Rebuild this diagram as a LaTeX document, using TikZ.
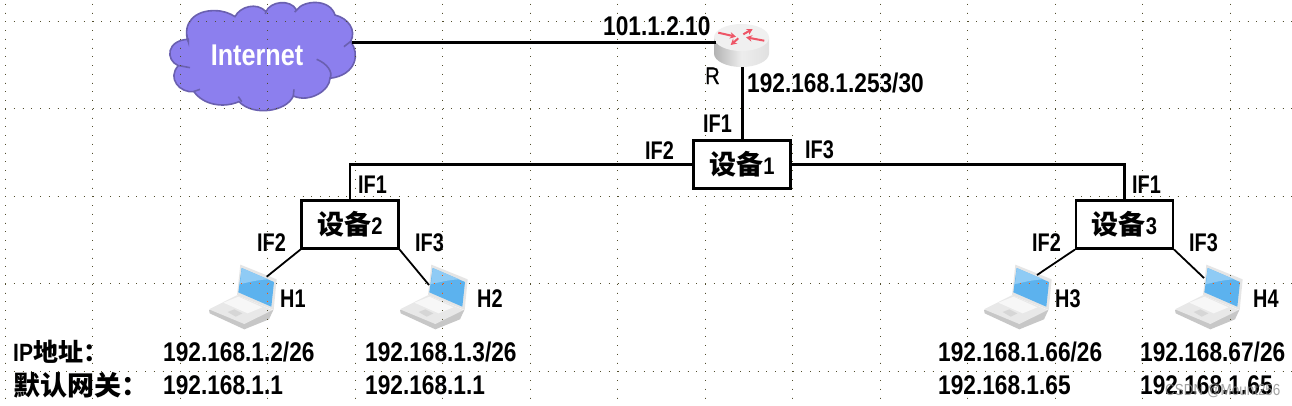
\documentclass[tikz,border=0pt]{standalone}
\usepackage{fontspec}
\setmainfont{Liberation Sans}[FakeStretch=0.84]
\newfontfamily\lblfam{Liberation Sans}[FakeStretch=0.78]
\newfontfamily\rfam{Liberation Sans}[FakeStretch=0.84,FakeBold=0.6]
\newfontfamily\cjk{Noto Sans CJK SC}
\definecolor{cloudfill}{HTML}{8C7FEE}
\definecolor{cloudline}{HTML}{6A60B0}
\definecolor{scr}{HTML}{5CB2EE}
\definecolor{scrl}{HTML}{8FCBF5}
\definecolor{routerred}{HTML}{EE5566}
\usetikzlibrary{arrows.meta}
\tikzset{
  griddot/.style={line width=1pt,dash pattern=on 1pt off 7.75pt},
  wire/.style={line width=2.5pt},
  thinwire/.style={line width=1.8pt},
  devbox/.style={draw=black,line width=2.1pt,fill=white,minimum width=97pt,minimum height=48pt,inner sep=0pt},
  lbl/.style={inner sep=0pt,anchor=west,text height=18pt,text depth=0pt,font=\lblfam\fontsize{25.5}{25.5}\selectfont\bfseries},
  ip/.style={inner sep=0pt,anchor=west,text height=19.3pt,text depth=0pt,font=\fontsize{27}{27}\selectfont\bfseries},
  rarrow/.style={draw=routerred,line width=2pt,-{Stealth[length=6pt,width=6.5pt]}},
}
\newcommand\griddots[1]{%
  \foreach \k in {0,...,14}{\draw[griddot,#1] ({5.2+87.5*\k},3.8) -- ({5.2+87.5*\k},398);}
  \foreach \k in {0,...,4}{\draw[griddot,#1] (5.2,{21.3+87.5*\k}) -- (1292,{21.3+87.5*\k});}
}
\newcommand\laptopat[1]{%
  \begin{scope}[shift={(#1,0)}]\begin{scope}[shift={(205,260)},x=0.3333pt,y=-0.3333pt]
    \fill[black!22] (12,150) -- (14,160) -- (118,208) -- (192,178) -- (205,150) -- cycle;
    \fill[black!9] (12,148) -- (95,106) -- (203,150) -- (118,192) -- cycle;
    \fill[black!3] (55,128) -- (100,110) -- (172,142) -- (128,160) -- cycle;
    \fill[black!16] (68,156) -- (88,148) -- (112,160) -- (92,170) -- cycle;
    \fill[black!10] (106,14) -- (215,58) -- (206,150) -- (96,106) -- cycle;
    \fill[scr] (110,24) -- (207,66) -- (199,140) -- (100,97) -- cycle;
    \fill[scrl] (110,24) -- (190,58) .. controls (150,60) and (120,70) .. (105,72) -- cycle;
  \end{scope}\end{scope}}
\newcommand\cloudpath{(145,125) .. controls (125,70) and (165,30) .. (225,32) .. controls (250,32) and (270,40) .. (285,50)
  .. controls (300,20) and (350,5) .. (378,35)
  .. controls (390,5) and (450,-5) .. (470,30)
  .. controls (490,0) and (570,-5) .. (585,45)
  .. controls (625,55) and (650,90) .. (632,125)
  .. controls (660,160) and (650,225) .. (570,235)
  .. controls (570,270) and (510,310) .. (460,288)
  .. controls (440,335) and (340,350) .. (297,305)
  .. controls (250,325) and (190,315) .. (162,275)
  .. controls (120,280) and (80,235) .. (115,197)
  .. controls (75,180) and (80,120) .. (145,118) -- cycle}
\begin{document}
\begin{tikzpicture}[x=1pt,y=-1pt]
\useasboundingbox (0,0) rectangle (1292,405);
\fill[white] (0,0) rectangle (1292,405);
% cloud
\begin{scope}[shift={(140,0)},x=0.3333pt,y=-0.3333pt]
  \draw[fill=cloudfill,draw=cloudline,line width=1.6pt] \cloudpath;
  \draw[cloudline,line width=1.6pt] (612,140) -- (635,122) (530,178) .. controls (560,190) and (580,215) .. (570,235)
    (462,268) -- (460,288) (295,290) -- (305,305) (180,268) -- (160,275) (150,203) -- (118,197) (145,125) -- (140,105)
    (378,35) -- (376,42) (470,30) -- (464,36);
\end{scope}
% laptops
\laptopat{0}\laptopat{191}\laptopat{775}\laptopat{966}
% grid
\griddots{black}
\begin{scope}
  \begin{scope}[shift={(140,0)},x=0.3333pt,y=-0.3333pt]\clip \cloudpath;\end{scope}
  \griddots{black!55!olive}
\end{scope}
\foreach \d in {0,191,775,966}{
  \begin{scope}
    \clip ({\d+241.7},268) -- ({\d+274},282) -- ({\d+271.3},306.7) -- ({\d+238.3},292.3) -- cycle;
    \griddots{orange!70!red}
  \end{scope}
}
% router
\shade[left color=black!30,right color=black!12,middle color=black!7] (714,37.5) -- (714,53.5) arc[start angle=180,end angle=360,x radius=27.5,y radius=-13.5] -- (769,37.5) -- cycle;
\fill[black!6] (741.5,37.5) ellipse[x radius=27.5,y radius=13.5];
\draw[rarrow] (718.3,32.7) -- (736,36.7);
\draw[rarrow] (743.3,34.3) -- (752.7,29);
\draw[rarrow] (764.3,40.7) -- (746,37.3);
\draw[rarrow] (738.3,38.3) -- (730.7,45);
\coordinate (inetedge) at (352,42.3);
\coordinate (rleft) at (716,42.3);
\coordinate (rbottom) at (742.5,67);
\coordinate (h1) at (266.7,276.7);
\coordinate (h2) at (429,285);
\coordinate (h3) at (1037,275);
\coordinate (h4) at (1204,278);
\node[inner sep=0pt,text=white,font=\fontsize{30}{30}\selectfont\bfseries] (inet) at (257,55) {Internet};
% device boxes
\node[devbox] (dev1) at (742,164.5) {\fontsize{27}{27}\selectfont\bfseries{\cjk 设备}\fontsize{24}{24}\selectfont 1};
\node[devbox] (dev2) at (350,224.5) {\fontsize{27}{27}\selectfont\bfseries{\cjk 设备}\fontsize{24}{24}\selectfont 2};
\node[devbox] (dev3) at (1124.5,224.5) {\fontsize{27}{27}\selectfont\bfseries{\cjk 设备}\fontsize{24}{24}\selectfont 3};
% connectors
\draw[wire] (inetedge) -- (rleft);
\draw[wire] (rbottom) -- (rbottom |- dev1.north);
\draw[wire] (dev1.west) -| (dev2.north);
\draw[wire] (dev1.east) -| (dev3.north);
\draw[thinwire] (dev2.south west) -- (h1);
\draw[thinwire] (dev2.south east) -- (h2);
\draw[thinwire] (dev3.south west) -- (h3);
\draw[thinwire] (dev3.south east) -- (h4);
% labels
\node[ip] (a1) at (603,26) {101.1.2.10};
\node[lbl,font=\rfam\fontsize{24}{24}\selectfont] (a2) at (705,75) {R};
\node[ip] (a3) at (747,83) {192.168.1.253/30};
\node[lbl] (b1) at (703,123) {IF1};
\node[lbl] (b2) at (645,150) {IF2};
\node[lbl] (b3) at (805,149) {IF3};
\node[lbl] (c1) at (358,184) {IF1};
\node[lbl] (c2) at (257,242) {IF2};
\node[lbl] (c3) at (415,242) {IF3};
\node[lbl] (d1) at (1132,184) {IF1};
\node[lbl] (d2) at (1032,242) {IF2};
\node[lbl] (d3) at (1189,242) {IF3};
\node[lbl] (e1) at (280,298) {H1};
\node[lbl] (e2) at (477,298) {H2};
\node[lbl] (e3) at (1055,298) {H3};
\node[lbl] (e4) at (1253,298) {H4};
\node[inner sep=0pt,anchor=west,font=\fontsize{25}{25}\selectfont\bfseries] (f1) at (13,352) {IP{\cjk 地址：}};
\node[inner sep=0pt,anchor=west,font=\fontsize{27}{27}\selectfont\bfseries] (f2) at (13,385) {\cjk 默认网关：};
\node[ip] (g1) at (163,352) {192.168.1.2/26};
\node[ip] (g2) at (365,352) {192.168.1.3/26};
\node[ip] (g3) at (938,352) {192.168.1.66/26};
\node[ip] (g4) at (1140,352) {192.168.67/26};
\node[ip] (k1) at (163,385) {192.168.1.1};
\node[ip] (k2) at (365,385) {192.168.1.1};
\node[ip] (k3) at (938,385) {192.168.1.65};
\node[ip] (k4) at (1140,385) {192.168.1.65};
\node[inner sep=0pt,anchor=west,text=black!45,opacity=.8,font=\fontsize{16}{16}\selectfont] (wm) at (1165,391) {CSDN @Mount256};
\end{tikzpicture}
\end{document}
